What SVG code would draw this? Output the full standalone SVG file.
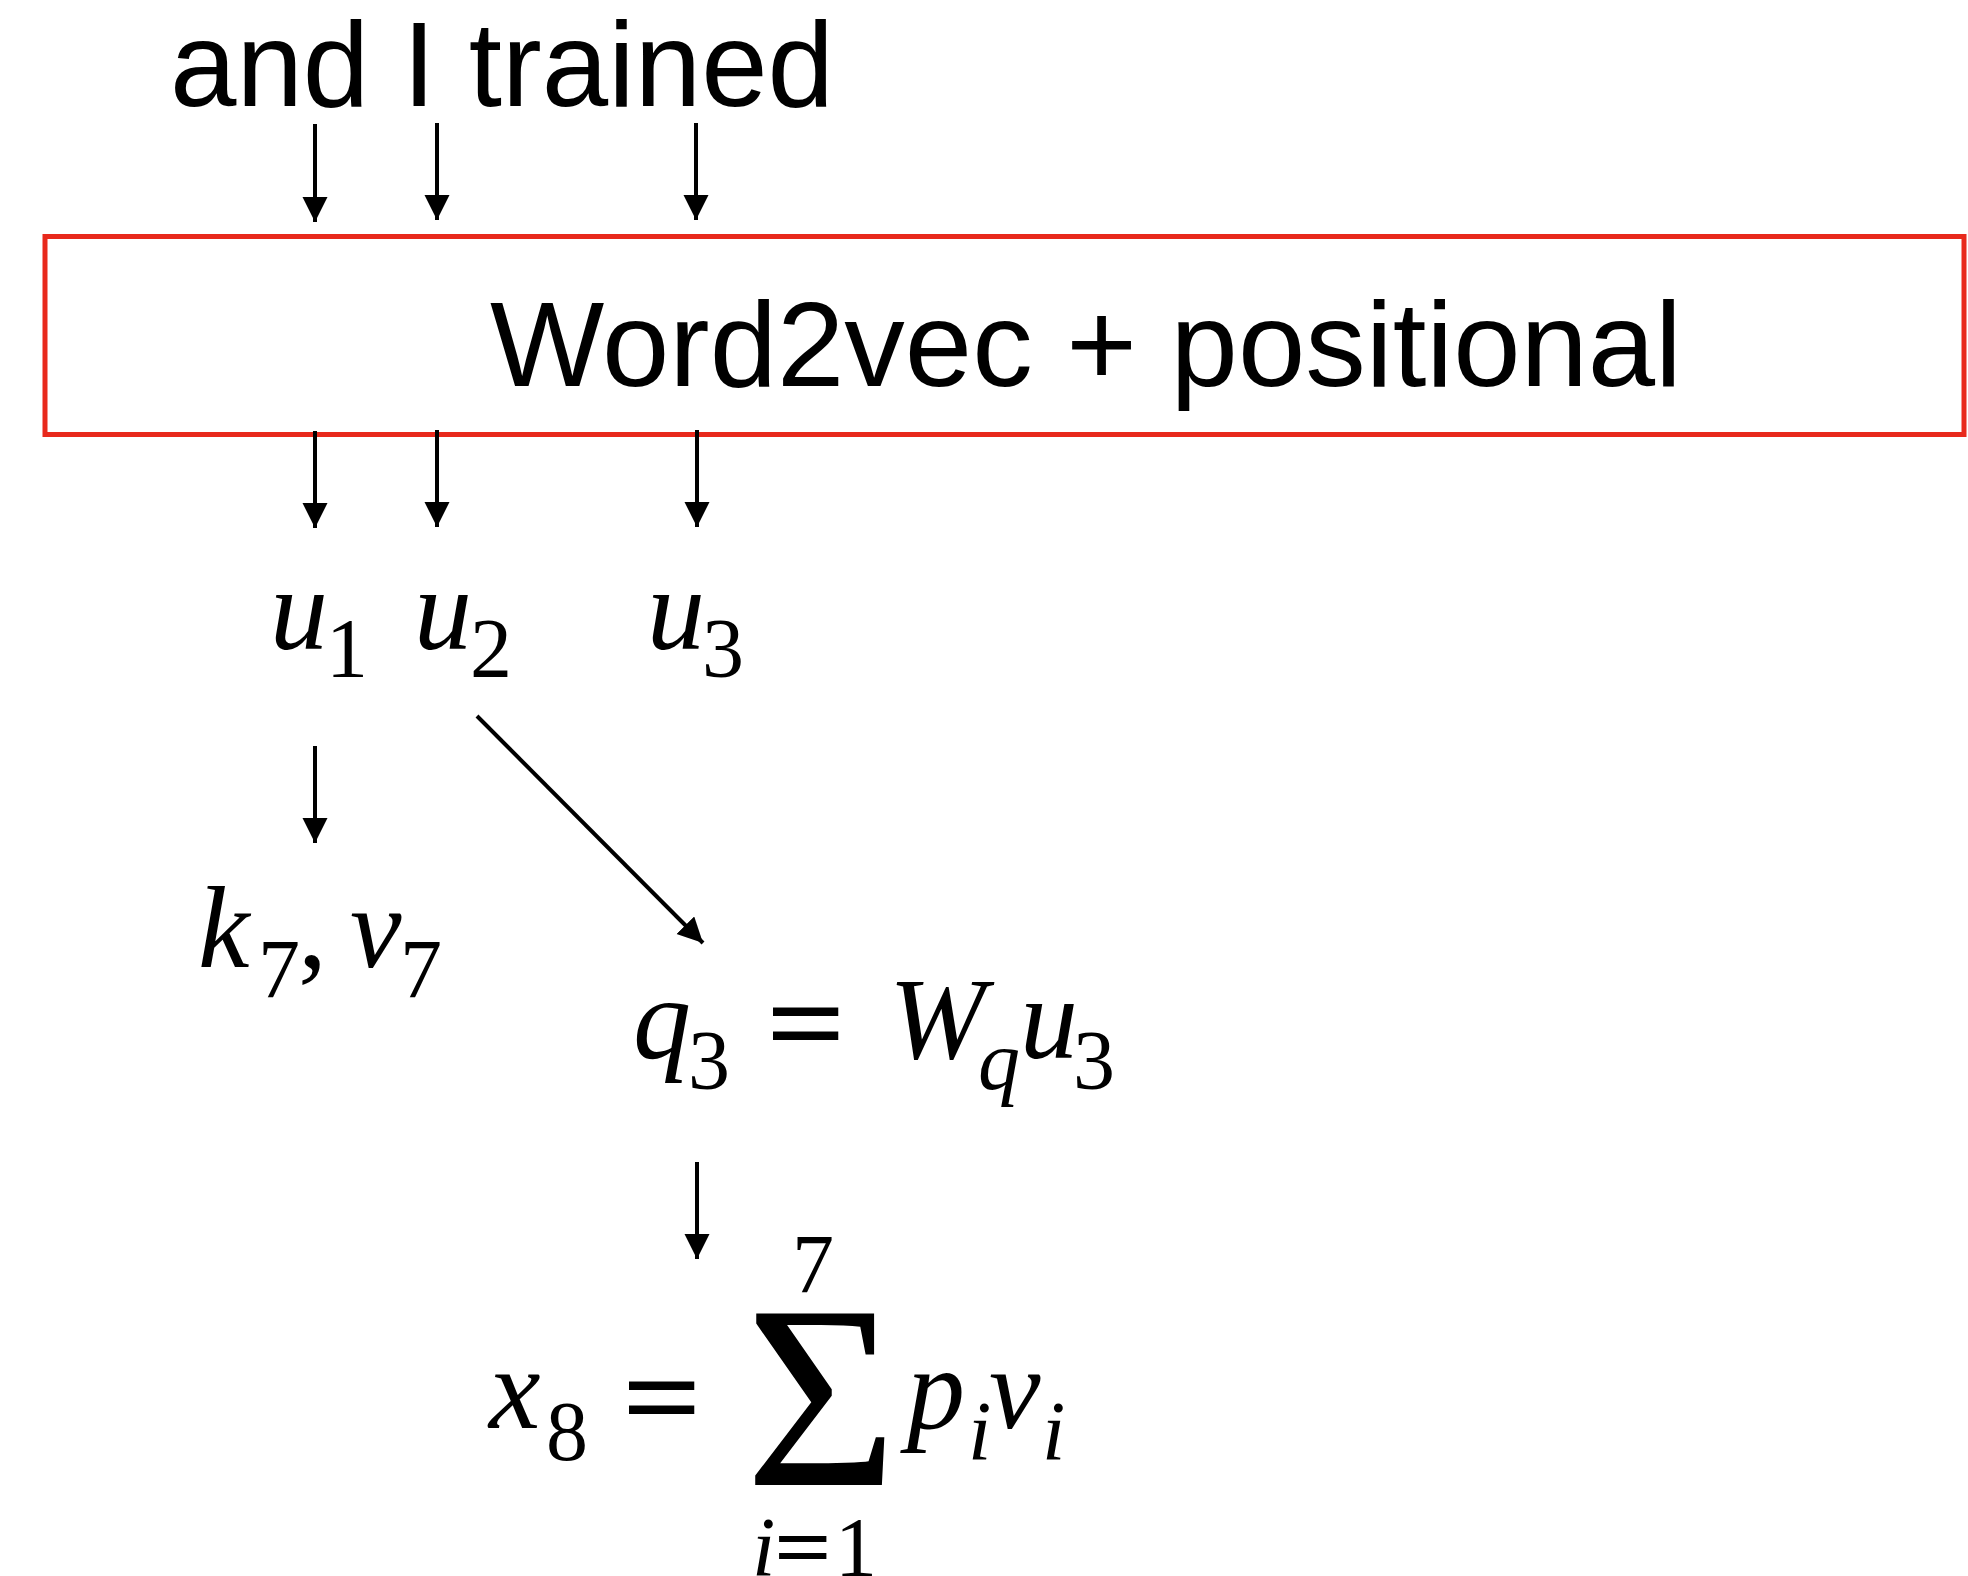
<svg xmlns="http://www.w3.org/2000/svg" width="1968" height="1576" viewBox="0 0 1968 1576">
<defs>
<style>
.lbl{font-family:"Liberation Sans",Arial,sans-serif;font-size:120px;fill:#000}
.mi{font-family:"Liberation Serif","Times New Roman",serif;font-style:italic;font-size:116px;fill:#000}
.mn{font-family:"Liberation Serif","Times New Roman",serif;font-size:116px;fill:#000}
.eq{font-family:"Liberation Serif","Times New Roman",serif;font-weight:bold;font-size:120px;fill:#000}
.si{font-family:"Liberation Serif","Times New Roman",serif;font-style:italic;font-size:84px;fill:#000}
.sn{font-family:"Liberation Serif","Times New Roman",serif;font-size:84px;fill:#000}
.sig{font-family:"Liberation Serif","Times New Roman",serif;font-size:262px;fill:#000}
.arr{stroke:#000;stroke-width:4;fill:none;marker-end:url(#ah)}
</style>
<marker id="ah" markerUnits="userSpaceOnUse" markerWidth="26" markerHeight="26" refX="25" refY="12.5" orient="auto">
<path d="M0,0 L25,12.5 L0,25 z" fill="#000"/>
</marker>
</defs>
<rect width="1968" height="1576" fill="#fff"/>
<g id="tokens">
<text class="lbl" x="170" y="106" textLength="664" lengthAdjust="spacingAndGlyphs">and I trained</text>
</g>
<g id="embedding">
<rect x="45" y="236.5" width="1919" height="198" fill="none" stroke="#E8291C" stroke-width="5"/>
<text class="lbl" x="490" y="386" textLength="1192" lengthAdjust="spacingAndGlyphs">Word2vec + positional</text>
</g>
<g id="u1"><text class="mi" x="270" y="649">u</text><text class="sn" x="326" y="677">1</text></g>
<g id="u2"><text class="mi" x="414" y="649">u</text><text class="sn" x="470" y="677">2</text></g>
<g id="u3"><text class="mi" x="647" y="649">u</text><text class="sn" x="702" y="677">3</text></g>
<g id="k7v7"><text class="mi" x="198" y="967">k</text><text class="sn" x="258" y="998">7</text><text class="mn" x="298" y="967">,</text><text class="mi" x="350" y="967">v</text><text class="sn" x="400" y="998">7</text></g>
<g id="q3"><text class="mi" x="633" y="1058">q</text><text class="sn" x="688" y="1089">3</text><text class="eq" x="766" y="1064" textLength="80" lengthAdjust="spacingAndGlyphs">=</text><text class="mi" x="889" y="1058">W</text><text class="si" x="978" y="1089">q</text><text class="mi" x="1020" y="1058">u</text><text class="sn" x="1073" y="1089">3</text></g>
<g id="x8"><text class="mi" x="489" y="1428">x</text><text class="sn" x="546" y="1460">8</text><text class="eq" x="622" y="1438" textLength="80" lengthAdjust="spacingAndGlyphs">=</text><text class="sig" x="745" y="1485">Σ</text><text class="sn" x="792" y="1293">7</text><text class="si" x="752" y="1576">i</text><text class="eq" x="774" y="1576" style="font-size:84px" textLength="58" lengthAdjust="spacingAndGlyphs">=</text><text class="sn" x="835" y="1576">1</text><text class="mi" x="907" y="1428">p</text><text class="si" x="968" y="1460">i</text><text class="mi" x="989" y="1428">v</text><text class="si" x="1042" y="1460">i</text></g>
<g id="connectors">
<line class="arr" x1="315" y1="124" x2="315" y2="222"/>
<line class="arr" x1="437" y1="123" x2="437" y2="220"/>
<line class="arr" x1="696" y1="123" x2="696" y2="220"/>
<line class="arr" x1="315" y1="431" x2="315" y2="528"/>
<line class="arr" x1="437" y1="430" x2="437" y2="527"/>
<line class="arr" x1="697" y1="430" x2="697" y2="527"/>
<line class="arr" x1="315" y1="746" x2="315" y2="843"/>
<line class="arr" x1="477" y1="716" x2="703" y2="943"/>
<line class="arr" x1="697" y1="1162" x2="697" y2="1259"/>
</g>
</svg>
